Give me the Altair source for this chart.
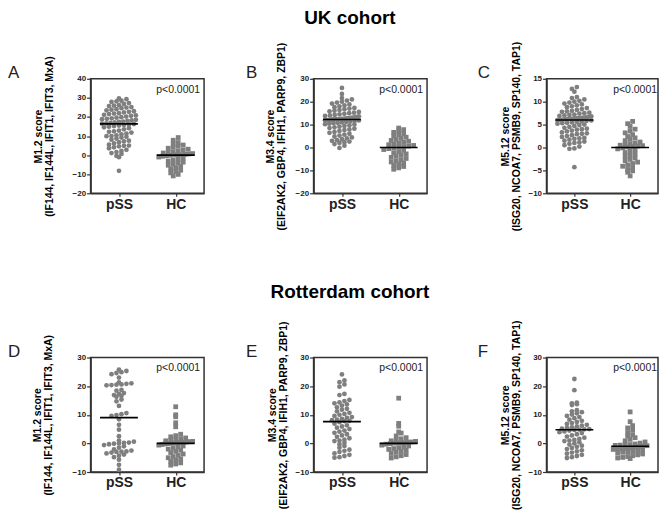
import altair as alt
import pandas as pd

FONT = "Liberation Sans"
GREY = "#7f7f7f"
FRAME = "#333333"

# ---------------- data ----------------
groups = ["pSS", "HC"]
p_text = ["p<0.0001", "p<0.0001", "p<0.0001", "p<0.0001", "p<0.0001", "p<0.0001"]
letters = ["A", "B", "C", "D", "E", "F"]
cohorts = ["UK cohort", "Rotterdam cohort"]
y_title_1 = ["M1.2 score", "M3.4 score", "M5.12 score", "M1.2 score", "M3.4 score", "M5.12 score"]
y_title_2 = ["(IF144, IF144L, IFIT1, IFIT3, MxA)", "(EIF2AK2, GBP4, IFIH1, PARP9, ZBP1)",
             "(ISG20, NCOA7, PSMB9, SP140, TAP1)", "(IF144, IF144L, IFIT1, IFIT3, MxA)",
             "(EIF2AK2, GBP4, IFIH1, PARP9, ZBP1)", "(ISG20, NCOA7, PSMB9, SP140, TAP1)"]
y_min = [-20, -20, -10, -10, -10, -10]
y_max = [40, 30, 15, 30, 30, 30]
y_ticks = [[-20, -10, 0, 10, 20, 30, 40], [-20, -10, 0, 10, 20, 30], [-10, -5, 0, 5, 10, 15],
           [-10, 0, 10, 20, 30], [-10, 0, 10, 20, 30], [-10, 0, 10, 20, 30]]

a_pss = [29.8, 29.3, 28.5, 28.2, 27.9, 27.3, 26.8, 26.2, 26.0, 25.7, 25.2, 24.9, 24.6, 24.1, 23.8, 23.5,
         23.0, 22.7, 22.4, 22.0, 21.8, 21.5, 21.1, 20.8, 20.6, 20.2, 19.9, 19.6, 19.3, 19.0, 18.8, 18.5,
         18.2, 17.9, 17.6, 17.4, 17.1, 16.9, 16.7, 16.5, 16.3, 16.1, 15.8, 15.5, 15.2, 14.9, 14.6, 14.1,
         13.5, 12.9, 12.2, 11.8, 11.3, 10.9, 10.4, 10.0, 9.6, 9.2, 8.7, 8.1, 7.6, 7.2, 6.8, 6.1, 5.5, 5.0,
         4.6, 4.1, 3.6, 2.8, 2.2, 1.6, 1.1, 0.6, -0.4, -1.1, 12.5, 9.9, 4.9, -8.2]
a_hc = [9.2, 7.8, 6.6, 5.9, 5.3, 4.7, 4.2, 3.6, 3.1, 2.7, 2.2, 1.8, 1.4, 1.1, 0.8, 0.6, 0.4, 0.3, 0.2, 0.1,
        -0.1, -0.3, -0.6, -1.0, -1.5, -2.0, -2.6, -3.1, -3.7, -4.2, -4.8, -5.3, -5.9, -6.6, -7.2, -7.9,
        -8.6, -9.3, -10.1, -10.9]
b_pss = [26.0, 23.4, 21.6, 21.0, 20.5, 20.0, 19.6, 19.2, 18.8, 18.4, 18.0, 17.6, 17.3, 17.0, 16.7, 16.4,
         16.1, 15.8, 15.5, 15.2, 15.0, 14.7, 14.5, 14.2, 14.0, 13.8, 13.6, 13.4, 13.2, 13.0, 12.9, 12.8,
         12.7, 12.6, 12.5, 12.45, 12.4, 12.35, 12.3, 12.25, 12.15, 12.1, 12.0, 11.9, 11.8, 11.6, 11.4, 11.2,
         11.0, 10.8, 10.6, 10.4, 10.2, 10.0, 9.7, 9.4, 9.1, 8.8, 8.5, 8.2, 7.9, 7.6, 7.2, 6.8, 6.4, 6.0,
         5.6, 5.2, 4.8, 4.4, 4.0, 3.6, 3.2, 2.9, 2.6, 2.3, 2.0, 1.5, 0.8, -0.2]
b_hc = [8.5, 7.8, 7.2, 6.6, 6.0, 5.5, 5.0, 4.5, 4.0, 3.5, 3.1, 2.7, 2.3, 1.9, 1.5, 1.2, 0.9, 0.6, 0.4, 0.2,
        -0.2, -0.5, -0.9, -1.3, -1.8, -2.3, -2.8, -3.3, -3.8, -4.3, -4.8, -5.3, -5.8, -6.3, -6.8, -7.3,
        -7.8, -8.3, -8.9, -9.5]
c_pss = [13.2, 12.8, 12.2, 11.0, 10.8, 10.5, 10.2, 10.0, 9.8, 9.6, 9.4, 9.2, 9.0, 8.8, 8.6, 8.4, 8.2, 8.0,
         7.9, 7.8, 7.6, 7.5, 7.4, 7.2, 7.1, 7.0, 6.9, 6.8, 6.7, 6.6, 6.5, 6.45, 6.4, 6.35, 6.3, 6.25, 6.2,
         6.15, 6.1, 6.05, 5.95, 5.9, 5.8, 5.7, 5.6, 5.5, 5.4, 5.3, 5.2, 5.0, 4.9, 4.7, 4.5, 4.3, 4.1, 3.9,
         3.7, 3.5, 3.3, 3.1, 2.9, 2.7, 2.5, 2.3, 2.1, 1.9, 1.7, 1.5, 1.3, 1.0, 0.8, 0.5, 0.2, -0.2, -0.3,
         1.1, 2.0, 3.0, 4.0, -4.3]
c_hc = [5.7, 5.2, 4.6, 4.0, 3.6, 3.2, 2.8, 2.4, 2.1, 1.8, 1.5, 1.2, 1.0, 0.8, 0.6, 0.5, 0.4, 0.3, 0.2, 0.1,
        -0.1, -0.3, -0.5, -0.8, -1.1, -1.4, -1.7, -2.0, -2.3, -2.6, -2.9, -3.2, -3.5, -3.8, -4.1, -4.4,
        -4.8, -5.1, -5.4, -6.2]
d_pss = [25.8, 25.3, 24.9, 24.6, 24.2, 23.0, 21.3, 21.0, 20.8, 20.6, 20.5, 20.4, 20.3, 18.7, 18.4, 17.6,
         17.3, 16.9, 16.6, 16.3, 15.3, 14.7, 13.1, 10.6, 10.2, 9.9, 9.6, 8.4, 6.5, 4.8, 2.5, 1.0, 0.6, 0.3,
         0.0, -0.3, -0.6, -1.0, -1.5, -2.1, -2.5, -2.8, -3.0, -3.2, -3.5, -3.9, -4.3, -4.8, -5.7, -7.5,
         -9.2, -0.1, -2.9, 0.2]
d_hc = [12.8, 10.0, 9.3, 7.2, 5.8, 3.2, 2.7, 2.3, 1.9, 1.6, 1.3, 1.1, 0.9, 0.7, 0.6, 0.5, 0.4, 0.3, 0.2,
        0.1, 0.05, -0.05, -0.2, -0.4, -0.6, -0.9, -1.2, -1.6, -2.0, -2.4, -2.8, -3.2, -3.7, -4.2, -4.6,
        -5.0, -5.4, -5.8, -6.3, -6.8, -7.2, -7.6]
e_pss = [24.1, 22.0, 21.4, 20.6, 19.8, 17.3, 16.9, 15.2, 14.8, 14.3, 14.0, 13.6, 13.2, 12.6, 12.1, 11.8,
         11.2, 10.7, 10.3, 10.0, 9.6, 9.2, 8.9, 8.6, 8.3, 8.1, 7.9, 7.8, 7.4, 6.9, 6.3, 5.9, 5.5, 5.0, 4.5,
         4.1, 3.7, 3.2, 2.8, 2.3, 1.8, 1.3, 0.8, 0.2, -0.3, -0.9, -1.5, -2.2, -2.6, -3.0, -3.5, -4.0,
         -4.4, -4.8, -5.0, 1.0]
e_hc = [15.8, 7.0, 6.0, 4.0, 3.6, 2.6, 2.0, 1.6, 1.2, 0.9, 0.7, 0.5, 0.4, 0.3, 0.2, 0.1, -0.1, -0.3, -0.6,
        -0.9, -1.2, -1.5, -1.8, -2.1, -2.4, -2.8, -3.1, -3.5, -3.9, -4.3, -4.7, -5.1]
f_pss = [22.5, 18.6, 14.2, 14.0, 13.7, 13.4, 11.6, 11.2, 10.9, 10.5, 10.1, 9.6, 9.2, 8.8, 8.3, 7.9, 7.5,
         7.1, 6.8, 6.5, 6.2, 5.9, 5.6, 5.4, 5.2, 5.0, 4.9, 4.85, 4.7, 4.5, 4.2, 3.9, 3.6, 3.2, 2.8, 2.4,
         2.0, 1.6, 1.2, 0.8, 0.4, 0.0, -0.4, -0.8, -1.2, -1.6, -2.0, -2.4, -2.8, -3.2, -3.6, -4.0, -4.4,
         -4.8, -5.1, 1.0]
f_hc = [11.0, 7.6, 6.2, 5.4, 4.6, 3.8, 3.0, 2.5, 2.0, 1.4, 0.9, 0.5, 0.1, -0.2, -0.4, -0.5, -0.6, -0.7,
        -0.8, -0.9, -1.1, -1.3, -1.5, -1.7, -1.9, -2.1, -2.3, -2.5, -2.8, -3.1, -3.4, -3.7, -4.0, -4.3,
        -4.6, -4.9, -5.1, -5.3, -3.0, -2.0]

pss_series = [a_pss, b_pss, c_pss, d_pss, e_pss, f_pss]
hc_series = [a_hc, b_hc, c_hc, d_hc, e_hc, f_hc]

# ---------------- layout settings ----------------
H = 115
widths = [114, 114, 112, 114, 114, 112]
title_pad = [18, 9, 7, 19, 7, 7]
letter_dx = [-83, -68, -69, -83, -68, -69]
p_dx = [-4, -4, -1, -4, -4, -1]
row_title_offset = [12, 17]


def swarm(vals, ppu, row_px=4.2, dot=5.0, maxw=34.0):
    """Scatter-dot layout: points that share a pixel row are spread side by side."""
    bins = {}
    for i, v in enumerate(vals):
        bins.setdefault(round(v * ppu / row_px), []).append(i)
    off = [0.0] * len(vals)
    for idxs in bins.values():
        idxs = sorted(idxs, key=lambda i: vals[i])
        n = len(idxs)
        if n == 1:
            continue
        s = min(dot, maxw / (n - 1))
        for j, i in enumerate(idxs):
            off[i] = (j - (n - 1) / 2) * s
    return off


def panel(k):
    W = widths[k]
    ppu = H / (y_max[k] - y_min[k])
    rows = []
    for gi, vals in enumerate([pss_series[k], hc_series[k]]):
        offs = swarm(vals, ppu)
        for v, o in zip(vals, offs):
            rows.append({"grp": groups[gi], "idx": gi, "val": v, "xpos": gi + o / (W / 2)})
    df = pd.DataFrame(rows)
    xsc = alt.Scale(domain=[-0.5, 1.5], nice=False, zero=False)
    ysc = alt.Scale(domain=[y_min[k], y_max[k]], nice=False, zero=False)
    xax = alt.Axis(values=[0, 1], labelExpr="datum.value == 0 ? 'pSS' : 'HC'", title=None,
                   labelOverlap=False)
    yax = alt.Axis(values=y_ticks[k], title=[y_title_1[k], y_title_2[k]], titlePadding=title_pad[k],
                   labelOverlap=False, tickCount=len(y_ticks[k]))
    base = alt.Chart(df)
    pts = base.mark_point(filled=True, size=23, opacity=1, color=GREY).encode(
        x=alt.X("xpos:Q", scale=xsc, axis=xax),
        y=alt.Y("val:Q", scale=ysc, axis=yax),
        shape=alt.Shape("grp:N", scale=alt.Scale(domain=groups, range=["circle", "square"]), legend=None),
    )
    med = base.mark_tick(orient="horizontal", size=38, thickness=1.6, color="black").encode(
        x=alt.X("idx:Q", scale=xsc, axis=xax),
        y=alt.Y("median(val):Q", scale=ysc, axis=yax),
    )
    ptxt = alt.Chart(pd.DataFrame({"p": [p_text[k]]})).mark_text(
        align="right", baseline="top", dx=p_dx[k], dy=6, fontSize=10.5, font=FONT, color="#222222"
    ).encode(x=alt.X(datum=1.5, scale=xsc, axis=xax), y=alt.Y(datum=y_max[k], scale=ysc, axis=yax),
             text="p:N")
    letter = alt.Chart(pd.DataFrame({"t": [letters[k]]})).mark_text(
        align="left", baseline="alphabetic", fontSize=17, font=FONT, color="#222222"
    ).encode(x=alt.value(letter_dx[k]), y=alt.value(-1), text="t:N")
    return alt.layer(pts, med, ptxt, letter).properties(width=W, height=H)


def row(r):
    ps = [panel(3 * r + i) for i in range(3)]
    inner = alt.hconcat(ps[0], ps[1], spacing=40)
    return alt.hconcat(inner, ps[2], spacing=49,
                       title=alt.TitleParams(cohorts[r], anchor="middle", dx=17, offset=row_title_offset[r],
                                             fontSize=19, fontWeight="bold", font=FONT, color="black"))


chart = alt.vconcat(row(0), row(1), spacing=51).properties(
    padding={"left": 7, "top": 8, "right": 0, "bottom": 0}
).configure_view(stroke=FRAME, strokeWidth=1.5).configure_axis(
    domainColor=FRAME, domainWidth=1.5, tickColor=FRAME, tickWidth=1.2, grid=False,
    labelFont=FONT, titleFont=FONT, labelColor="#222222", titleColor="black", labelOverlap=False
).configure_axisY(
    labelFontSize=8, labelFontWeight="bold", tickSize=4, labelPadding=1,
    titleFontSize=10.5, titleFontWeight="bold", titleLineHeight=11
).configure_axisX(
    labelFontSize=14, labelFontWeight="bold", tickSize=3, labelPadding=1
)

chart.save("out.html", embed_options={"renderer": "svg", "actions": False})
